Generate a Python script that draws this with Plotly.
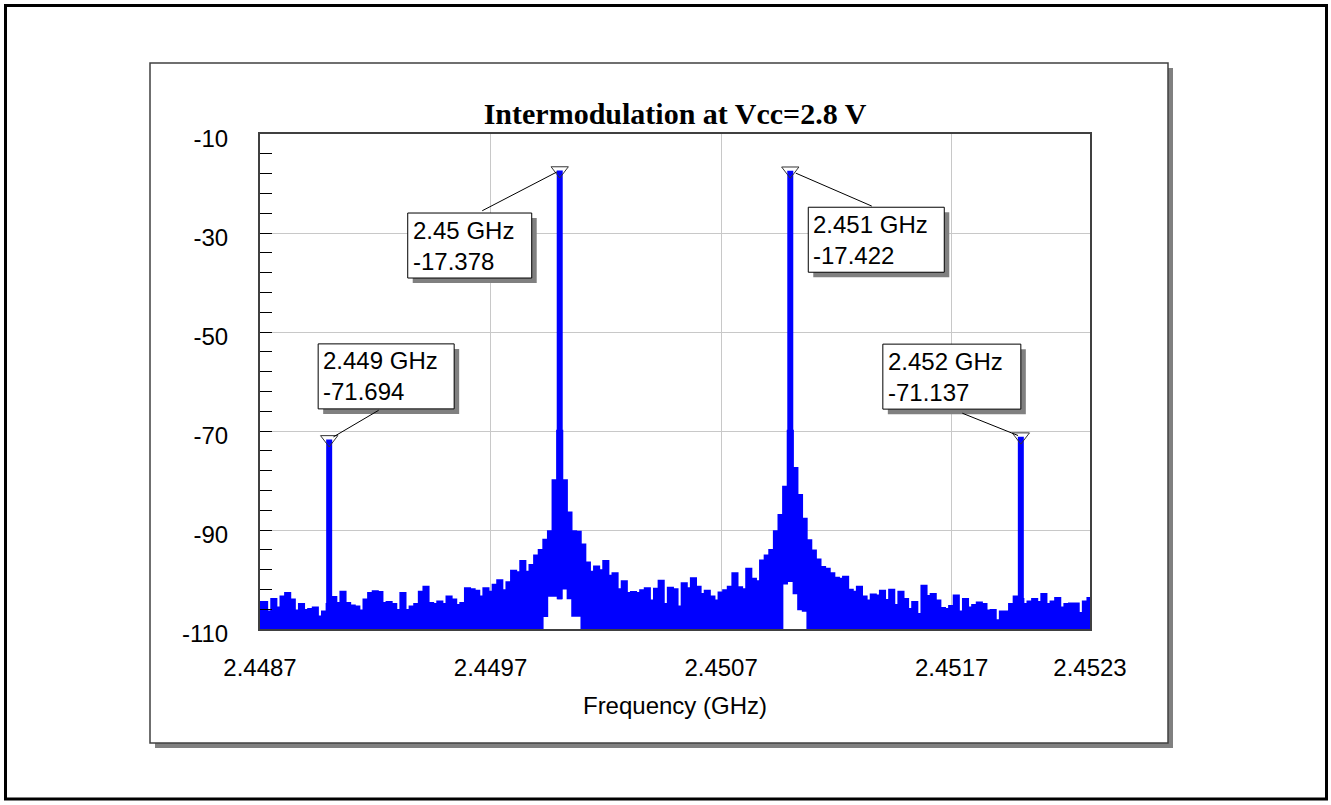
import numpy as np
import plotly.graph_objects as go

# ---------------- data ----------------
f_start, f_stop, n_pts = 2.4487, 2.4523, 181
freq = np.linspace(f_start, f_stop, n_pts)

noise_upper = [
    -104.6, -104.6, -106.5, -104.0, -105.7, -103.5, -102.8, -104.1, -106.3, -105.0,
    -106.2, -106.0, -105.7, -107.5, -106.5, -105.0, -103.6, -104.8, -102.5, -104.8,
    -105.3, -105.5, -106.3, -104.1, -102.8, -102.4, -102.6, -104.8, -104.6, -105.0,
    -106.2, -102.8, -106.2, -105.5, -105.0, -102.5, -101.5, -104.8, -105.0, -104.5,
    -105.0, -103.5, -104.1, -105.2, -104.8, -101.8, -102.0, -102.3, -103.5, -101.8,
    -102.5, -101.1, -100.2, -102.2, -100.6, -98.3, -98.6, -96.3, -98.5, -97.1,
    -95.2, -94.1, -92.0, -90.3, -80.0, -70.0, -80.0, -86.5, -90.3, -90.4,
    -93.0, -96.6, -98.5, -97.4, -98.2, -96.3, -99.3, -98.8, -102.0, -100.4,
    -102.8, -102.6, -102.8, -102.2, -101.8, -104.3, -101.9, -100.3, -105.0, -101.7,
    -102.0, -105.5, -100.8, -101.8, -99.8, -101.5, -103.0, -102.3, -103.5, -104.3,
    -102.7, -102.2, -101.5, -98.8, -101.6, -102.0, -97.9, -99.9, -100.4, -96.2,
    -95.2, -94.1, -90.3, -87.0, -81.3, -70.0, -77.5, -83.0, -87.8, -92.1,
    -94.2, -96.0, -97.5, -97.9, -98.8, -99.7, -99.9, -99.5, -102.1, -102.5,
    -101.5, -103.5, -104.3, -103.1, -103.3, -102.3, -104.2, -102.1, -105.2, -102.5,
    -104.0, -106.0, -104.6, -107.0, -101.3, -103.4, -103.0, -104.3, -105.8, -106.0,
    -105.4, -103.3, -106.5, -104.0, -105.7, -105.2, -104.7, -105.0, -106.3, -106.2,
    -108.3, -106.5, -106.5, -105.0, -103.5, -104.0, -105.0, -104.5, -104.0, -104.6,
    -103.0, -105.0, -104.5, -103.8, -105.7, -105.0, -104.9, -104.9, -106.8, -104.5,
    -103.8,
]

noise_lower = [
    -110, -110, -110, -110, -110, -110, -110, -110, -110, -110,
    -110, -110, -110, -110, -110, -110, -110, -110, -110, -110,
    -110, -110, -110, -110, -110, -110, -110, -110, -110, -110,
    -110, -110, -110, -110, -110, -110, -110, -110, -110, -110,
    -110, -110, -110, -110, -110, -110, -110, -110, -110, -110,
    -110, -110, -110, -110, -110, -110, -110, -110, -110, -110,
    -110, -110, -107.6, -103.5, -103.5, -104.0, -102.0, -104.0, -107.5, -107.5,
    -110, -110, -110, -110, -110, -110, -110, -110, -110, -110,
    -110, -110, -110, -110, -110, -110, -110, -110, -110, -110,
    -110, -110, -110, -110, -110, -110, -110, -110, -110, -110,
    -110, -110, -110, -110, -110, -110, -110, -110, -110, -110,
    -110, -110, -110, -110, -101.0, -100.5, -103.0, -106.2, -106.5, -110,
    -110, -110, -110, -110, -110, -110, -110, -110, -110, -110,
    -110, -110, -110, -110, -110, -110, -110, -110, -110, -110,
    -110, -110, -110, -110, -110, -110, -110, -110, -110, -110,
    -110, -110, -110, -110, -110, -110, -110, -110, -110, -110,
    -110, -110, -110, -110, -110, -110, -110, -110, -110, -110,
    -110, -110, -110, -110, -110, -110, -110, -110, -110, -110,
    -110,
]

tone_freq = [2.449, 2.450, 2.451, 2.452]
tone_level = [-71.694, -17.378, -17.422, -71.137]
tone_base = [-110, -104.0, -100.5, -110]
marker_text = ["2.449 GHz<br>-71.694", "2.45 GHz<br>-17.378",
               "2.451 GHz<br>-17.422", "2.452 GHz<br>-71.137"]

x_ticks = [2.4487, 2.4497, 2.4507, 2.4517, 2.4523]
x_ticklabels = ["2.4487", "2.4497", "2.4507", "2.4517", "2.4523"]
y_ticks = [-10, -30, -50, -70, -90, -110]
y_ticklabels = ["-10", "-30", "-50", "-70", "-90", "-110"]

# ------------- layout helpers (positions, pixels) -------------
box_shift = [(57, 63), (-90, -75), (86, -69), (-69, 60)]      # box centre offset from marker
box_width = [136, 124, 136, 138]
box_height = 65
leader_tail = [(51, -30), (-79, 41), (83, 36), (-60, -24)]     # line start (box edge) offset
leader_standoff = [5, 3, 6, 3]

BLUE = "#0000FF"
FONT = "Liberation Sans, Arial"
fig = go.Figure()

fig.add_trace(go.Scatter(x=freq, y=noise_lower, mode="lines",
                         line=dict(width=0, color=BLUE, shape="hvh"), showlegend=False,
                         hoverinfo="skip"))
fig.add_trace(go.Scatter(x=freq, y=noise_upper, mode="lines", fill="tonexty",
                         fillcolor=BLUE, line=dict(width=2.5, color=BLUE, shape="hvh"),
                         showlegend=False))

col_x, col_y = [], []
for f, lv, b in zip(tone_freq, tone_level, tone_base):
    col_x += [f, f, None]
    col_y += [lv, b, None]
fig.add_trace(go.Scatter(x=col_x, y=col_y, mode="lines",
                         line=dict(width=6, color=BLUE), showlegend=False))

fig.add_trace(go.Scatter(x=tone_freq, y=tone_level, mode="markers",
                         marker=dict(symbol="triangle-down-open", size=15,
                                     color="#333333", line=dict(width=1)),
                         showlegend=False, cliponaxis=False))


def pxrect(xref, yref, xa, ya, x0, x1, y0, y1, **kw):
    # pixel-sized rectangle anchored at (xa, ya); y offsets positive = up
    return dict(type="rect", xref=xref, yref=yref, xsizemode="pixel",
                ysizemode="pixel", xanchor=xa, yanchor=ya,
                x0=x0, x1=x1, y0=y0, y1=y1, **kw)


shapes = [
    pxrect("paper", "paper", 0, 1, -254.5, 1066.5, 128.5, -665,
           line=dict(color="#000000", width=3), fillcolor="rgba(0,0,0,0)", layer="below"),
    pxrect("paper", "paper", 0, 1, -105, 913, 66, -614, line=dict(width=0),
           fillcolor="#808080", layer="below"),
    pxrect("paper", "paper", 0, 1, -110, 908, 71, -609,
           line=dict(color="#404040", width=1.5), fillcolor="#FFFFFF", layer="below"),
]

annos = []
for i in range(4):
    dx, dy = box_shift[i]
    w = box_width[i]
    h = box_height
    # shadow, then box
    shapes.append(pxrect("x", "y", tone_freq[i], tone_level[i],
                         dx - w / 2 + 5, dx + w / 2 + 5, dy - h / 2 - 5, dy + h / 2 - 5,
                         line=dict(width=0), fillcolor="#808080", layer="above"))
    shapes.append(pxrect("x", "y", tone_freq[i], tone_level[i],
                         dx - w / 2, dx + w / 2, dy - h / 2, dy + h / 2,
                         line=dict(width=1, color="#000000"), fillcolor="#FFFFFF",
                         layer="above"))
    annos.append(dict(x=tone_freq[i], y=tone_level[i], xref="x", yref="y",
                      text="", showarrow=True, arrowhead=0, arrowwidth=1,
                      arrowcolor="#000000", ax=leader_tail[i][0], ay=leader_tail[i][1],
                      axref="pixel", ayref="pixel", standoff=leader_standoff[i]))
    annos.append(dict(x=tone_freq[i], y=tone_level[i], xref="x", yref="y",
                      text=marker_text[i], showarrow=False, align="left",
                      xanchor="center", yanchor="middle", width=w - 10,
                      xshift=dx, yshift=dy, borderpad=0, borderwidth=0,
                      font=dict(family=FONT, size=24, color="#000000")))

fig.update_layout(
    width=1331, height=805,
    margin=dict(l=260, r=241, t=134, b=176),
    paper_bgcolor="#FFFFFF", plot_bgcolor="#FFFFFF",
    title=dict(text="<b>Intermodulation at Vcc=2.8 V</b>", x=0.5, xref="paper",
               y=1 - 113 / 805, yref="container", yanchor="middle", xanchor="center",
               font=dict(family="Liberation Serif, Times New Roman", size=30,
                         color="#000000")),
    annotations=annos, shapes=shapes, showlegend=False,
)

fig.update_xaxes(range=[f_start, f_stop], tickvals=x_ticks, ticktext=x_ticklabels,
                 showgrid=True, gridcolor="#C8C8C8", gridwidth=1, ticks="",
                 showline=True, mirror=True, linecolor="#404040", linewidth=2,
                 zeroline=False, ticklabelstandoff=16,
                 tickfont=dict(family=FONT, size=24, color="#000000"),
                 title=dict(text="Frequency (GHz)", standoff=17,
                            font=dict(family=FONT, size=24, color="#000000")))
fig.update_yaxes(range=[-110, -10], tickvals=y_ticks, ticktext=y_ticklabels,
                 showgrid=True,
                 gridcolor="#C8C8C8", gridwidth=1, ticks="inside", ticklen=12,
                 tickcolor="#000000", tickwidth=1,
                 minor=dict(tick0=-10, dtick=4, ticks="inside", ticklen=12,
                            tickcolor="#000000", tickwidth=1, showgrid=False),
                 showline=True, mirror=True, linecolor="#404040", linewidth=2,
                 zeroline=False, ticklabelstandoff=25, ticklabelshift=5,
                 tickfont=dict(family=FONT, size=24, color="#000000"))

fig.write_html("out.html", config={"displayModeBar": False},
               post_script="document.body.style.margin='0px';")
